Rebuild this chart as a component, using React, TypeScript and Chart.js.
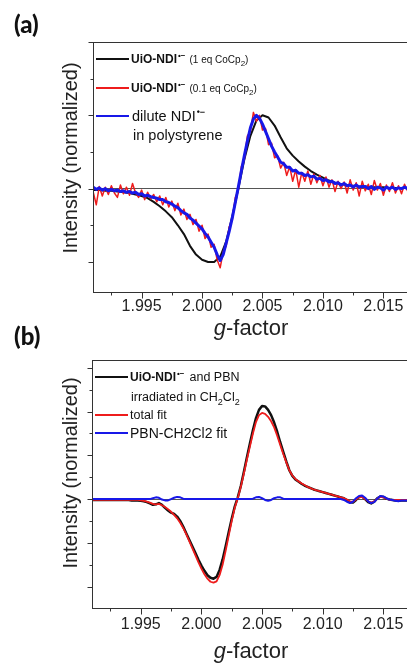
import React, { useEffect, useRef } from "react";
import { Chart, registerables } from "chart.js";
Chart.register(...registerables);

// ---- shared axis values ----
const G_MIN = 1.99098;
const G_MAX = 2.01716;
const G_START = 1.991;
const FINE_STEP = 0.00025;
const COARSE_STEP = 0.0005;
const X_MAJOR_TICKS = [1.995, 2.0, 2.005, 2.01, 2.015];
const X_MINOR_TICKS = [1.9925, 1.9975, 2.0025, 2.0075, 2.0125];

// ---- panel (a) ----
const A_Y_MIN = -1.41;
const A_Y_MAX = 2.0;
const A_Y_MAJOR = [-1, 0, 1, 2];
const A_Y_MINOR = [-0.5, 0.5, 1.5];

// UiO-NDI (1 eq CoCp2), step 0.0005 from 1.991
const A_BLACK = [
  -0.02, -0.02, -0.03, -0.03, -0.04, -0.05, -0.06, -0.08, -0.1, -0.13,
  -0.18, -0.24, -0.31, -0.39, -0.5, -0.62, -0.78, -0.9, -0.97, -1.0,
  -1.0, -0.93, -0.72, -0.38, 0.0, 0.4, 0.72, 0.93, 1.0, 0.97,
  0.86, 0.7, 0.55, 0.45, 0.37, 0.3, 0.24, 0.19, 0.15, 0.11,
  0.08, 0.06, 0.05, 0.04, 0.03, 0.03, 0.02, 0.02, 0.02, 0.01,
  0.01, 0.01, 0.01,
];
// UiO-NDI (0.1 eq CoCp2), step 0.00025 from 1.991
const A_RED = [
  -0.05, -0.22, 0.03, -0.1, 0.02, -0.08, 0.04, -0.06, -0.12, 0.05,
  -0.07, 0.02, -0.09, 0.07, -0.06, -0.12, -0.02, -0.15, -0.05, -0.14,
  -0.08, -0.18, -0.1, -0.22, -0.12, -0.25, -0.17, -0.3, -0.2, -0.36,
  -0.28, -0.42, -0.35, -0.49, -0.42, -0.58, -0.5, -0.68, -0.62, -0.8,
  -0.76, -0.97, -1.08, -0.86, -0.78, -0.52, -0.43, -0.12, -0.02, 0.3,
  0.4, 0.72, 0.78, 1.04, 0.92, 1.0, 0.8, 0.82, 0.6, 0.62,
  0.42, 0.45, 0.28, 0.36, 0.18, 0.3, 0.1, 0.26, 0.02, 0.22,
  0.1, 0.24, 0.06, 0.2, 0.08, 0.18, 0.04, 0.16, 0.02, 0.12,
  -0.04, 0.1, 0.0, 0.09, -0.06, 0.12, -0.02, 0.08, -0.1, 0.1,
  -0.03, 0.06, -0.08, 0.11, -0.02, 0.07, -0.09, 0.05, -0.04, 0.08,
  -0.06, 0.04, -0.07, 0.06, -0.03,
];
// dilute NDI in polystyrene, step 0.00025 from 1.991
const A_BLUE = [
  0.02, -0.01, 0.01, -0.02, 0.0, -0.03, -0.01, -0.03, -0.02, -0.04,
  -0.03, -0.05, -0.04, -0.06, -0.05, -0.08, -0.07, -0.1, -0.09, -0.11,
  -0.12, -0.13, -0.15, -0.15, -0.18, -0.19, -0.21, -0.24, -0.26, -0.3,
  -0.33, -0.35, -0.4, -0.43, -0.47, -0.51, -0.55, -0.61, -0.66, -0.73,
  -0.8, -0.9, -0.98, -0.9, -0.74, -0.58, -0.4, -0.19, 0.02, 0.24,
  0.45, 0.65, 0.83, 0.95, 1.0, 0.96, 0.88, 0.78, 0.68, 0.58,
  0.5, 0.43, 0.36, 0.34, 0.29, 0.29, 0.24, 0.25, 0.21, 0.21,
  0.18, 0.19, 0.16, 0.17, 0.13, 0.14, 0.11, 0.12, 0.09, 0.1,
  0.07, 0.08, 0.05, 0.07, 0.04, 0.05, 0.02, 0.05, 0.02, 0.03,
  0.03, 0.0, 0.03, -0.01, 0.02, 0.01, -0.02, 0.02, 0.0, 0.02,
  -0.01, 0.01, 0.0, 0.02, 0.0,
];

// ---- panel (b) ----
const B_Y_MIN = -2.49;
const B_Y_MAX = 3.18;
const B_Y_MAJOR = [-2, -1, 0, 1, 2, 3];
const B_Y_MINOR = [-1.5, -0.5, 0.5, 1.5, 2.5];

// UiO-NDI and PBN irradiated in CH2Cl2, step 0.00025 from 1.991
const B_BLACK = [
  -0.02, -0.02, -0.02, -0.02, -0.02, -0.02, -0.02, -0.02, -0.02, -0.02,
  -0.02, -0.02, -0.02, -0.03, -0.03, -0.03, -0.04, -0.05, -0.07, -0.1,
  -0.13, -0.12, -0.09, -0.13, -0.2, -0.26, -0.31, -0.34, -0.4, -0.5,
  -0.63, -0.78, -0.93, -1.08, -1.23, -1.38, -1.52, -1.64, -1.74, -1.8,
  -1.82, -1.78, -1.62, -1.38, -1.08, -0.76, -0.45, -0.17, 0.04, 0.3,
  0.62, 0.95, 1.27, 1.58, 1.85, 2.04, 2.13, 2.12, 2.04, 1.92,
  1.75, 1.54, 1.3, 1.08, 0.86, 0.66, 0.53, 0.45, 0.4, 0.35,
  0.31, 0.28, 0.25, 0.22, 0.2, 0.18, 0.16, 0.14, 0.12, 0.1,
  0.08, 0.06, 0.04, 0.02, -0.02, -0.07, -0.08, -0.02, 0.05, 0.06,
  0.0, -0.07, -0.1, -0.06, 0.02, 0.06, 0.05, 0.01, -0.01, -0.02,
  -0.03, -0.04, -0.03, -0.03, -0.03,
];
// total fit
const B_RED = [
  -0.02, -0.02, -0.02, -0.02, -0.02, -0.02, -0.02, -0.02, -0.02, -0.02,
  -0.02, -0.02, -0.02, -0.02, -0.02, -0.02, -0.03, -0.04, -0.06, -0.08,
  -0.11, -0.12, -0.11, -0.14, -0.18, -0.23, -0.29, -0.36, -0.44, -0.54,
  -0.66, -0.8, -0.96, -1.12, -1.28, -1.44, -1.59, -1.72, -1.82, -1.89,
  -1.91, -1.88, -1.74, -1.5, -1.18, -0.84, -0.5, -0.2, 0.02, 0.28,
  0.58, 0.9, 1.2, 1.5, 1.76, 1.92, 1.97, 1.95, 1.88, 1.78,
  1.64, 1.45, 1.24, 1.03, 0.84, 0.66, 0.54, 0.46, 0.41, 0.36,
  0.32, 0.28, 0.25, 0.22, 0.2, 0.18, 0.16, 0.14, 0.12, 0.1,
  0.08, 0.06, 0.04, 0.02, -0.01, -0.05, -0.06, -0.01, 0.04, 0.05,
  0.0, -0.05, -0.08, -0.05, 0.01, 0.05, 0.04, 0.01, -0.01, -0.02,
  -0.02, -0.02, -0.02, -0.02, -0.02,
];
// PBN-CH2Cl2 fit
const B_BLUE = [
  0, 0, 0, 0, 0, 0, 0, 0, 0, 0,
  0, 0, 0, 0, 0, 0, 0, 0, 0, 0,
  0.02, 0.04, 0.03, -0.01, -0.03, -0.03, 0.0, 0.03, 0.05, 0.04,
  0.01, 0, 0, 0, 0, 0, 0, 0, 0, 0,
  0, 0, 0, 0, 0, 0, 0, 0, 0, 0,
  0, 0, 0, 0.01, 0.04, 0.05, 0.02, -0.02, -0.04, -0.02,
  0.02, 0.04, 0.04, 0.01, 0, 0, 0, 0, 0, 0,
  0, 0, 0, 0, 0, 0, 0, 0, 0, 0,
  0, 0, 0, -0.02, -0.06, -0.09, -0.06, 0.02, 0.07, 0.08,
  0.03, -0.05, -0.09, -0.07, 0.01, 0.07, 0.06, 0.02, -0.01, -0.02,
  -0.04, -0.05, -0.03, -0.03, -0.03,
];

const BLACK = "#111111";
const RED = "#ee1c1c";
const BLUE = "#1818e8";
const FONT = "'Liberation Sans', Arial, Helvetica, sans-serif";
const LABEL_FONT = "Lato, 'Open Sans', sans-serif";

const toPoints = (vals: number[], step: number) =>
  vals.map((v, i) => ({ x: G_START + i * step, y: v }));

const framePlugin = {
  id: "frame",
  afterDraw(chart: any, _args: any, opts: any) {
    const { ctx, chartArea: ca, scales } = chart;
    ctx.save();
    ctx.strokeStyle = "#333";
    ctx.lineWidth = 1;
    ctx.strokeRect(Math.round(ca.left) + 0.5, Math.round(ca.top) + 0.5, ca.right - ca.left, ca.bottom - ca.top);
    const xs = scales.x;
    const ys = scales.y;
    const bottom = Math.round(ca.bottom) + 0.5;
    const left = Math.round(ca.left) + 0.5;
    const line = (x1: number, y1: number, x2: number, y2: number) => {
      ctx.beginPath();
      ctx.moveTo(x1, y1);
      ctx.lineTo(x2, y2);
      ctx.stroke();
    };
    for (const v of opts.xMajor) {
      const p = Math.round(xs.getPixelForValue(v)) + 0.5;
      line(p, bottom, p, bottom + 6);
    }
    for (const v of opts.xMinor) {
      const p = Math.round(xs.getPixelForValue(v)) + 0.5;
      line(p, bottom, p, bottom + 3);
    }
    for (const v of opts.yMajor) {
      const p = Math.round(ys.getPixelForValue(v)) + 0.5;
      line(left, p, left - 5, p);
    }
    for (const v of opts.yMinor) {
      const p = Math.round(ys.getPixelForValue(v)) + 0.5;
      line(left, p, left - 3, p);
    }
    ctx.restore();
  },
};

type PanelCfg = {
  width: number;
  height: number;
  padTop: number;
  axisWidth: number;
  axisHeight: number;
  tickPad: number;
  yMin: number;
  yMax: number;
  yMajor: number[];
  yMinor: number[];
  datasets: any[];
};

function Panel({ cfg, top }: { cfg: PanelCfg; top: number }) {
  const ref = useRef<HTMLCanvasElement | null>(null);
  useEffect(() => {
    if (!ref.current) return;
    const chart = new Chart(ref.current, {
      type: "line",
      data: { datasets: cfg.datasets },
      plugins: [framePlugin],
      options: {
        animation: false,
        responsive: false,
        maintainAspectRatio: false,
        layout: { padding: { left: 0, right: 10.5, top: cfg.padTop, bottom: 0 } },
        elements: { point: { radius: 0 }, line: { tension: 0, borderJoinStyle: "round" } },
        plugins: {
          legend: { display: false },
          tooltip: { enabled: false },
          frame: { xMajor: X_MAJOR_TICKS, xMinor: X_MINOR_TICKS, yMajor: cfg.yMajor, yMinor: cfg.yMinor },
        } as any,
        scales: {
          x: {
            type: "linear",
            min: G_MIN,
            max: G_MAX,
            afterFit: (s: any) => {
              s.height = cfg.axisHeight;
            },
            afterBuildTicks: (s: any) => {
              s.ticks = X_MAJOR_TICKS.map((v) => ({ value: v }));
            },
            ticks: {
              autoSkip: false,
              maxRotation: 0,
              padding: cfg.tickPad,
              color: "#222",
              font: { family: FONT, size: 16 },
              callback: (v: any) => Number(v).toFixed(3),
            },
            grid: { display: false, drawTicks: false },
            border: { display: false },
          },
          y: {
            type: "linear",
            min: cfg.yMin,
            max: cfg.yMax,
            afterFit: (s: any) => {
              s.width = cfg.axisWidth;
            },
            afterBuildTicks: (s: any) => {
              s.ticks = [{ value: 0 }];
            },
            ticks: { display: false },
            grid: {
              drawTicks: false,
              color: (c: any) => (c.tick && c.tick.value === 0 ? "#555" : "rgba(0,0,0,0)"),
              lineWidth: 1,
            },
            border: { display: false },
          },
        },
      } as any,
    });
    return () => chart.destroy();
  }, []);
  return (
    <canvas
      ref={ref}
      width={cfg.width}
      height={cfg.height}
      style={{ position: "absolute", left: 0, top, width: cfg.width, height: cfg.height }}
    />
  );
}

const ds = (label: string, vals: number[], step: number, color: string, width: number, order: number) => ({
  label,
  data: toPoints(vals, step),
  borderColor: color,
  backgroundColor: color,
  borderWidth: width,
  pointRadius: 0,
  fill: false,
  order,
});

const panelA: PanelCfg = {
  width: 420,
  height: 320,
  padTop: 42,
  axisWidth: 93,
  axisHeight: 28,
  tickPad: 5,
  yMin: A_Y_MIN,
  yMax: A_Y_MAX,
  yMajor: A_Y_MAJOR,
  yMinor: A_Y_MINOR,
  datasets: [
    ds("UiO-NDI (1 eq CoCp2)", A_BLACK, COARSE_STEP, BLACK, 2, 3),
    ds("UiO-NDI (0.1 eq CoCp2)", A_RED, FINE_STEP, RED, 1.5, 2),
    ds("dilute NDI in polystyrene", A_BLUE, FINE_STEP, BLUE, 3, 1),
  ],
};

const panelB: PanelCfg = {
  width: 420,
  height: 343,
  padTop: 40,
  axisWidth: 92,
  axisHeight: 55,
  tickPad: 7,
  yMin: B_Y_MIN,
  yMax: B_Y_MAX,
  yMajor: B_Y_MAJOR,
  yMinor: B_Y_MINOR,
  datasets: [
    ds("UiO-NDI and PBN irradiated in CH2Cl2", B_BLACK, FINE_STEP, BLACK, 2.5, 3),
    ds("total fit", B_RED, FINE_STEP, RED, 1.8, 2),
    ds("PBN-CH2Cl2 fit", B_BLUE, FINE_STEP, BLUE, 2, 1),
  ],
};

const abs = (left: number, top: number, extra: any = {}) => ({
  position: "absolute" as const,
  left,
  top,
  whiteSpace: "nowrap" as const,
  fontFamily: FONT,
  color: "#111",
  ...extra,
});

function LegendLine({ x, y, color }: { x: number; y: number; color: string }) {
  return <div style={{ position: "absolute", left: x, top: y - 1, width: 33, height: 2, background: color }} />;
}

function Radical({ size = 8, top = -5 }: { size?: number; top?: number }) {
  return (
    <span style={{ fontSize: size, position: "relative", top, fontWeight: "bold", marginLeft: 1 }}>
      {"\u2022\u2212"}
    </span>
  );
}

function YTitle({ x, y }: { x: number; y: number }) {
  return (
    <div
      style={abs(x, y, {
        fontSize: 20,
        lineHeight: "20px",
        transform: "translate(-50%, -50%) rotate(-90deg)",
        color: "#222",
      })}
    >
      Intensity (normalized)
    </div>
  );
}

function XTitle({ y }: { y: number }) {
  return (
    <div style={abs(251, y, { fontSize: 22, lineHeight: "22px", transform: "translateX(-50%)", color: "#222" })}>
      <i>g</i>-factor
    </div>
  );
}

export default function App() {
  return (
    <div
      style={{
        position: "absolute",
        left: 0,
        top: 0,
        width: 407,
        height: 663,
        overflow: "hidden",
        background: "#fff",
      }}
    >
      <Panel cfg={panelA} top={0} />
      <Panel cfg={panelB} top={320} />

      <div style={abs(14, 11, { fontSize: 24, fontWeight: 900, lineHeight: "26px", fontFamily: LABEL_FONT })}>(a)</div>
      <div style={abs(14, 323, { fontSize: 24, fontWeight: 900, lineHeight: "26px", fontFamily: LABEL_FONT })}>(b)</div>

      <YTitle x={70} y={158} />
      <YTitle x={70} y={473} />
      <XTitle y={317} />
      <XTitle y={640} />

      {/* legend (a) */}
      <LegendLine x={96} y={59} color={BLACK} />
      <LegendLine x={96} y={88} color={RED} />
      <LegendLine x={96} y={116} color={BLUE} />
      <div style={abs(131, 52, { lineHeight: "14px", fontSize: 12 })}>
        <b>UiO-NDI</b>
        <Radical />
        <span style={{ fontSize: 10, marginLeft: 4 }}>
          (1 eq CoCp<sub style={{ fontSize: 8, lineHeight: 0 }}>2</sub>)
        </span>
      </div>
      <div style={abs(131, 81, { lineHeight: "14px", fontSize: 12 })}>
        <b>UiO-NDI</b>
        <Radical />
        <span style={{ fontSize: 10, marginLeft: 4 }}>
          (0.1 eq CoCp<sub style={{ fontSize: 8, lineHeight: 0 }}>2</sub>)
        </span>
      </div>
      <div style={abs(132, 108, { lineHeight: "16px", fontSize: 14.5 })}>
        dilute NDI
        <Radical size={9} top={-6} />
      </div>
      <div style={abs(133, 127, { lineHeight: "16px", fontSize: 14.5 })}>in polystyrene</div>

      {/* legend (b) */}
      <LegendLine x={95} y={377} color={BLACK} />
      <LegendLine x={95} y={415} color={RED} />
      <LegendLine x={95} y={433} color={BLUE} />
      <div style={abs(130, 370, { lineHeight: "14px", fontSize: 12 })}>
        <b>UiO-NDI</b>
        <Radical />
        <span style={{ marginLeft: 5, fontSize: 12.5 }}>and PBN</span>
      </div>
      <div style={abs(131, 390, { lineHeight: "14px", fontSize: 12.5 })}>
        irradiated in CH<sub style={{ fontSize: 9, lineHeight: 0 }}>2</sub>Cl<sub style={{ fontSize: 9, lineHeight: 0 }}>2</sub>
      </div>
      <div style={abs(130, 408, { lineHeight: "14px", fontSize: 12.5 })}>total fit</div>
      <div style={abs(130, 426, { lineHeight: "14px", fontSize: 14 })}>PBN-CH2Cl2 fit</div>
    </div>
  );
}
